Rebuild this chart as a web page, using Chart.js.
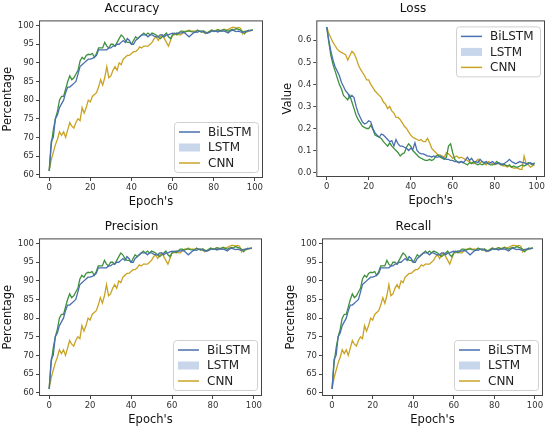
<!DOCTYPE html>
<html>
<head>
<meta charset="utf-8">
<script src="https://cdn.jsdelivr.net/npm/chart.js@4.4.0/dist/chart.umd.min.js"></script>
<style>
  html, body { margin: 0; padding: 0; background: #fff; }
  #grid { display: grid; grid-template-columns: 275px 275px; grid-template-rows: 215px 215px; width: 550px; height: 430px; }
  .cell { position: relative; width: 275px; height: 215px; }
</style>
</head>
<body>
<div id="grid">
  <div class="cell"><canvas id="acc"></canvas></div>
  <div class="cell"><canvas id="loss"></canvas></div>
  <div class="cell"><canvas id="prec"></canvas></div>
  <div class="cell"><canvas id="rec"></canvas></div>
</div>
<script>
var epochs = [];
for (var i = 0; i < 100; i++) epochs.push(i);

var seriesNames = ["BiLSTM", "LSTM", "CNN"];

// percentage curves (accuracy / precision / recall look the same in the figure)
var bilstmPct = [61,69,70,75,76,78,79,80,82,83.5, 83.5,84,84.5,85,87,89,89.5,90,90.5,91,
  91,91.2,91.5,92,93.5,93.5,93.5,93.5,93.5,94, 94,94.5,94.5,95,95,95.5,96,95.5,96.5,96,
  95,95,96,96.5,97,97.5,97.5,97.5,97,97.5, 97.5,97.2,97,97,97.5,97.5,97,97.5,97.5,97.8,
  98,97.8,98,98,98,98.2,98,97.5,97,97.5, 98,98.3,98.2,98.5,98.5,98.3,98,98,98.2,98.5,
  98.5,98.5,98.3,98.5,98.6,98.5,98.3,98,98.5,98.8, 98.6,98.4,98.5,98.3,98.2,98.4,98.5,98.6,98.7,98.8];
var lstmPct = [61,68,72,75,77,80,81,81,83,85, 86.5,85.5,86,87,88,90.5,91.5,91,92,92.3,
  92.2,92.5,91.5,92.5,94,94,94,95.5,94.5,94, 95,95,94.5,95.5,96.5,97.5,97,96,95.5,95.5,
  95,96,97,96.5,97,97.5,98,97.5,98,97.5, 98,97.8,97.5,97,96.5,97,97.5,98,97,96.5,
  97.5,98,97.5,98,98.5,98.5,98.2,98.5,98.6,98.4, 98.3,98.2,98.8,98.5,98.2,98.6,98.3,98,98.5,98.8,
  98.4,98.6,98.9,98.6,98.8,99,98.7,98.5,98.8,99, 98.8,99.2,99,98.8,98.5,97.8,98.5,98.8,98.6,98.9];
var cnnPct = [61,64,66,68,69.5,71.5,70.5,71.5,70,72, 74,73,72.5,74,75,74.5,78,76.5,78,80,
  79.5,81,81.5,82,83.5,85.5,84,86,89,86, 86.5,88,89,88,90,89.5,91,91.5,92,92,
  92.5,93,93,93.5,94.3,94,94.5,94.5,94.5,95, 95.5,96.5,97,96,97,97.5,96.5,95.5,94.5,96,
  97.5,97.5,98,97.5,97.5,98,98.5,98.5,98.8,98.5, 98.5,98.5,98.7,98.5,98.5,98.2,97.8,98.2,98.5,98.8,
  98.6,98.7,98.9,98.8,98.5,99,98.8,99,99.3,99.5, 99.5,99.3,99.5,99.3,97.8,98.5,98.3,98.5,98.8,98.7];

// loss curves
var bilstmLoss = [0.66,0.60,0.55,0.51,0.48,0.46,0.44,0.41,0.39,0.37, 0.36,0.34,0.35,0.34,0.30,0.27,0.25,0.23,0.22,0.225,
  0.235,0.23,0.20,0.18,0.17,0.16,0.175,0.17,0.16,0.15, 0.14,0.145,0.12,0.15,0.13,0.12,0.12,0.115,0.11,0.10,
  0.11,0.105,0.135,0.10,0.09,0.085,0.085,0.08,0.075,0.075, 0.07,0.075,0.07,0.07,0.075,0.07,0.065,0.06,0.06,0.055,
  0.055,0.05,0.05,0.045,0.05,0.045,0.055,0.07,0.055,0.065, 0.05,0.05,0.045,0.06,0.05,0.045,0.05,0.04,0.045,0.05,
  0.04,0.04,0.045,0.04,0.035,0.045,0.05,0.06,0.05,0.045, 0.04,0.045,0.05,0.045,0.045,0.04,0.04,0.045,0.04,0.04];
var lstmLoss = [0.66,0.59,0.53,0.49,0.46,0.43,0.40,0.38,0.35,0.34, 0.33,0.35,0.32,0.29,0.26,0.24,0.225,0.21,0.205,0.20,
  0.20,0.215,0.195,0.17,0.165,0.16,0.155,0.14,0.13,0.12, 0.135,0.12,0.11,0.10,0.09,0.075,0.085,0.09,0.115,0.13,
  0.12,0.10,0.09,0.08,0.07,0.065,0.06,0.055,0.055,0.06, 0.055,0.06,0.075,0.08,0.07,0.065,0.06,0.07,0.12,0.13,
  0.09,0.06,0.05,0.045,0.05,0.045,0.04,0.035,0.045,0.04, 0.05,0.04,0.035,0.04,0.035,0.04,0.045,0.04,0.035,0.035,
  0.04,0.05,0.04,0.035,0.04,0.035,0.03,0.035,0.025,0.03, 0.025,0.025,0.03,0.035,0.03,0.035,0.045,0.04,0.035,0.045];
var cnnLoss = [0.66,0.63,0.61,0.59,0.575,0.56,0.55,0.545,0.54,0.535, 0.51,0.53,0.55,0.54,0.52,0.49,0.47,0.455,0.44,0.42,
  0.42,0.40,0.385,0.37,0.36,0.35,0.34,0.32,0.31,0.29, 0.30,0.28,0.27,0.25,0.25,0.24,0.225,0.21,0.20,0.185,
  0.17,0.16,0.155,0.15,0.145,0.15,0.14,0.14,0.155,0.135, 0.11,0.10,0.09,0.08,0.08,0.075,0.07,0.09,0.085,0.075,
  0.065,0.07,0.075,0.065,0.07,0.065,0.06,0.055,0.05,0.045, 0.04,0.05,0.06,0.045,0.05,0.04,0.035,0.05,0.045,0.04,
  0.035,0.04,0.045,0.035,0.03,0.03,0.025,0.03,0.025,0.02, 0.02,0.02,0.015,0.015,0.075,0.04,0.035,0.025,0.03,0.035];

var pctTicks = [60, 65, 70, 75, 80, 85, 90, 95, 100];
var lossTicks = [0.0, 0.1, 0.2, 0.3, 0.4, 0.5, 0.6];
var epochTicks = [0, 20, 40, 60, 80, 100];

var colors = { BiLSTM: "#4a6fb0", LSTM: "#3f913c", CNN: "#c9a324" };
var patchFill = "#c8d6ec";

Chart.defaults.font.family = "'DejaVu Sans', sans-serif";
Chart.defaults.color = "#222";
Chart.defaults.animation = false;

// matplotlib-like frame + legend inside the axes
var framePlugin = {
  id: "frameLegend",
  afterDraw: function (chart) {
    var ctx = chart.ctx, a = chart.chartArea;
    ctx.save();
    ctx.strokeStyle = "#444";
    ctx.lineWidth = 1;
    ctx.strokeRect(a.left + 0.5, a.top + 0.5, a.right - a.left - 1, a.bottom - a.top - 1);

    var where = chart.options.plugins.frameLegend.where;
    var w = 84, h = 50;
    var x = a.right - w - 5;
    var y = where === "top" ? a.top + 6 : a.bottom - h - 6;
    ctx.fillStyle = "rgba(255,255,255,0.9)";
    ctx.strokeStyle = "#d0d0d0";
    ctx.beginPath();
    ctx.roundRect(x + 0.5, y + 0.5, w, h, 3);
    ctx.fill();
    ctx.stroke();
    ctx.font = "12px 'DejaVu Sans', sans-serif";
    ctx.textBaseline = "middle";
    seriesNames.forEach(function (name, k) {
      var cy = y + 10 + k * 15.5;
      if (name === "LSTM") {
        ctx.fillStyle = patchFill;
        ctx.fillRect(x + 5, cy - 4, 21, 8);
      } else {
        ctx.strokeStyle = colors[name];
        ctx.lineWidth = 1.5;
        ctx.beginPath();
        ctx.moveTo(x + 5, cy);
        ctx.lineTo(x + 26, cy);
        ctx.stroke();
      }
      ctx.fillStyle = "#222";
      ctx.fillText(name, x + 34, cy + 0.5);
    });
    ctx.restore();
  }
};

function makeChart(id, title, yTitle, yData, yMin, yMax, yTicks, legendWhere, pad) {
  var datasets = seriesNames.map(function (name, k) {
    return {
      label: name,
      data: epochs.map(function (e, j) { return { x: e, y: yData[k][j] }; }),
      borderColor: colors[name],
      borderWidth: 1.3,
      pointRadius: 0,
      fill: false,
      tension: 0
    };
  });
  return new Chart(document.getElementById(id), {
    type: "line",
    data: { datasets: datasets },
    plugins: [framePlugin],
    options: {
      responsive: true,
      maintainAspectRatio: false,
      layout: { padding: pad },
      plugins: {
        legend: { display: false },
        tooltip: { enabled: false },
        title: { display: true, text: title, font: { size: 12, weight: "normal" }, color: "#111", padding: { top: 2, bottom: 4 } },
        frameLegend: { where: legendWhere }
      },
      scales: {
        x: {
          type: "linear", min: -4.95, max: 103.95,
          afterBuildTicks: function (s) { s.ticks = epochTicks.map(function (v) { return { value: v }; }); },
          ticks: { font: { size: 8.5 }, color: "#333", padding: 2, maxRotation: 0 },
          grid: { display: true, drawOnChartArea: false, drawTicks: true, tickLength: 3, color: "#444" },
          border: { display: false },
          title: { display: true, text: "Epoch's", font: { size: 11.5 }, color: "#111", padding: { top: 0, bottom: 0 } }
        },
        y: {
          type: "linear", min: yMin, max: yMax,
          afterBuildTicks: function (s) { s.ticks = yTicks.map(function (v) { return { value: v }; }); },
          ticks: {
            font: { size: 8.5 }, color: "#333", padding: 2,
            callback: function (v) { return yTicks === lossTicks ? v.toFixed(1) : v; }
          },
          grid: { display: true, drawOnChartArea: false, drawTicks: true, tickLength: 3, color: "#444" },
          border: { display: false },
          title: { display: true, text: yTitle, font: { size: 11.5 }, color: "#111", padding: { top: 0, bottom: 1 } }
        }
      }
    }
  });
}

var pctData = [bilstmPct, lstmPct, cnnPct];
makeChart("acc", "Accuracy", "Percentage", pctData, 59.1, 101.4, pctTicks, "bottom", { left: 1, right: 12, top: 0, bottom: 6 });
makeChart("loss", "Loss", "Value", [bilstmLoss, lstmLoss, cnnLoss], -0.02, 0.69, lossTicks, "top", { left: 6, right: 5, top: 0, bottom: 7 });
makeChart("prec", "Precision", "Percentage", pctData, 59.1, 101.4, pctTicks, "bottom", { left: 1, right: 13, top: 3, bottom: 3 });
makeChart("rec", "Recall", "Percentage", pctData, 59.1, 101.4, pctTicks, "bottom", { left: 9, right: 7, top: 3, bottom: 3 });
</script>
</body>
</html>
